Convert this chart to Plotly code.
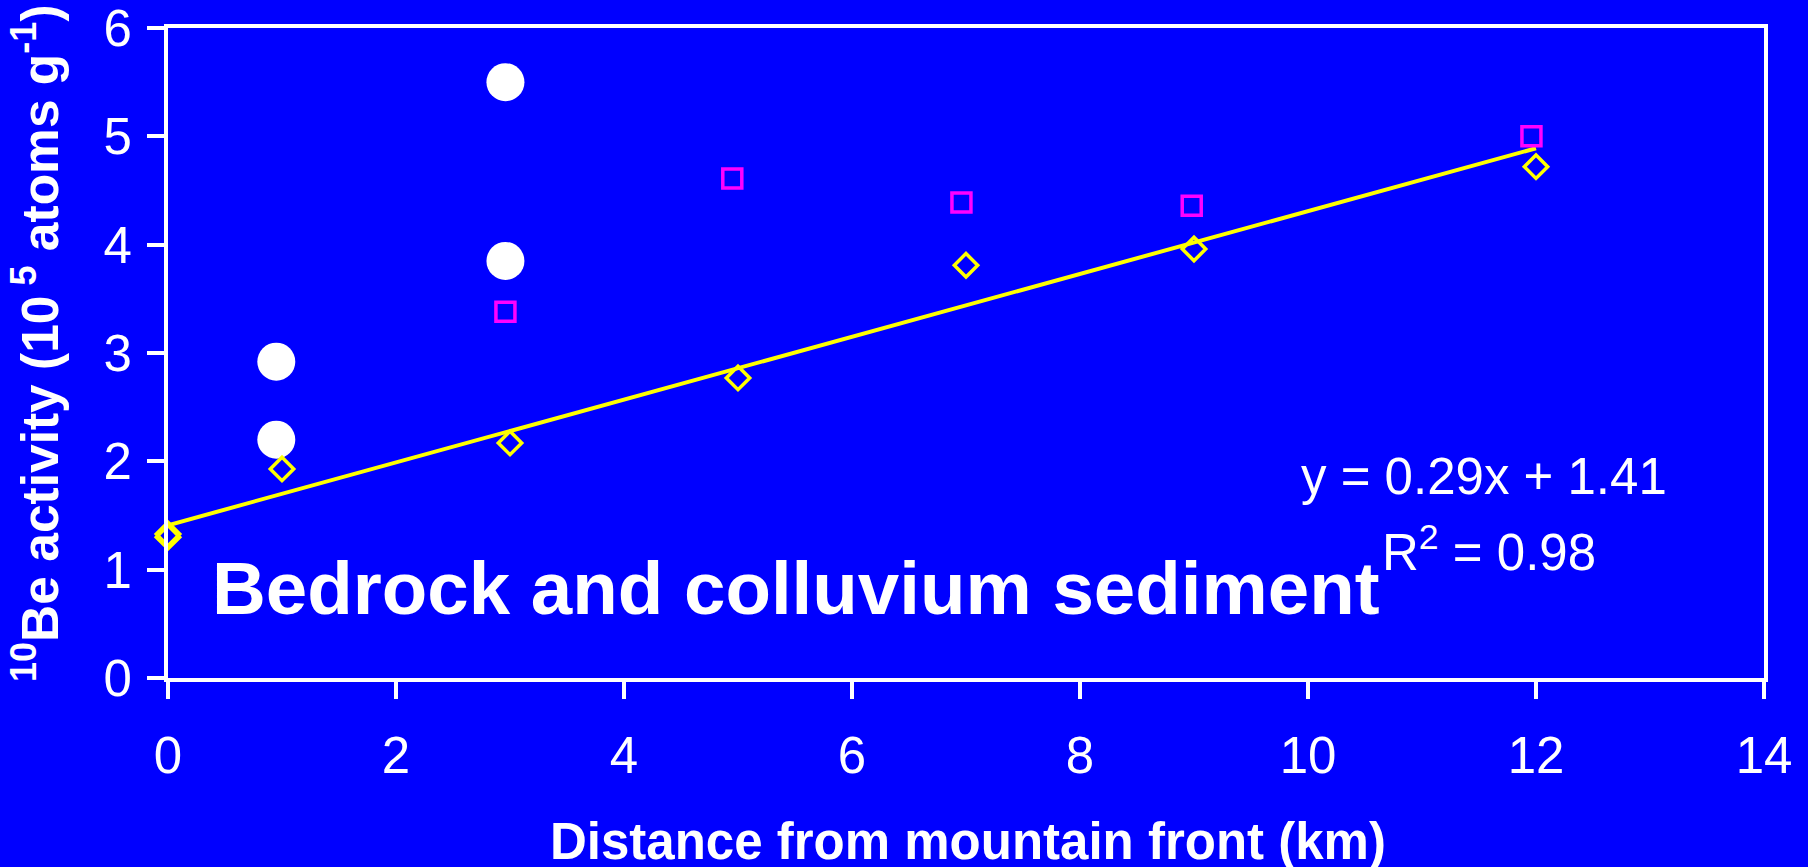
import plotly.graph_objects as go

# ---- data ----
bedrock_x = [0.95, 0.95, 2.96, 2.96]
bedrock_y = [2.92, 2.20, 5.50, 3.85]

colluvium_x = [2.96, 4.95, 6.96, 8.98, 11.96]
colluvium_y = [3.38, 4.61, 4.39, 4.36, 5.00]

sediment_x = [0, 0, 1, 3, 5, 7, 9, 12]
sediment_y = [1.30, 1.33, 1.93, 2.17, 2.77, 3.81, 3.96, 4.72]

fit_slope = 0.29
fit_intercept = 1.41
fit_x = [0, 12]
fit_y = [fit_slope * v + fit_intercept for v in fit_x]

x_ticks = [0, 2, 4, 6, 8, 10, 12, 14]
y_ticks = [0, 1, 2, 3, 4, 5, 6]

# ---- layout geometry (pixels) ----
W, H = 1808, 867
L, R, T, B = 168, 44, 28, 189
PW, PH = W - L - R, H - T - B


def px(xp):
    return (xp - L) / PW


def py(yp):
    return (H - B - yp) / PH


BLUE = "#0000FF"
FONT = "Liberation Sans, Arial, sans-serif"

fig = go.Figure()

fig.add_trace(go.Scatter(
    x=fit_x, y=fit_y, mode="lines",
    line=dict(color="#FFFF00", width=4),
    cliponaxis=False, showlegend=False, hoverinfo="skip"))

fig.add_trace(go.Scatter(
    x=bedrock_x, y=bedrock_y, mode="markers",
    marker=dict(symbol="circle", size=38, color="white", line=dict(width=0)),
    cliponaxis=False, showlegend=False))

fig.add_trace(go.Scatter(
    x=colluvium_x, y=colluvium_y, mode="markers",
    marker=dict(symbol="square-open", size=19, color="#FF00FF",
                line=dict(width=3.5, color="#FF00FF")),
    cliponaxis=False, showlegend=False))

fig.add_trace(go.Scatter(
    x=sediment_x, y=sediment_y, mode="markers",
    marker=dict(symbol="diamond-open", size=18, color="#FFFF00",
                line=dict(width=3.5, color="#FFFF00")),
    cliponaxis=False, showlegend=False))

axis_common = dict(
    showline=True, linecolor="white", linewidth=4, mirror=True,
    ticks="outside", ticklen=17, tickwidth=4, tickcolor="white",
    showgrid=False, zeroline=False, ticklabeloverflow="allow",
    automargin=False,
    tickfont=dict(family=FONT, size=51, color="white"),
)

fig.update_xaxes(range=[0, 14], tickvals=x_ticks, ticklabelstandoff=13, **axis_common)
fig.update_yaxes(range=[0, 6], tickvals=y_ticks, ticklabelstandoff=5, **axis_common)

annotations = [
    dict(text="<b>Bedrock and colluvium sediment</b>", x=px(210), y=py(588),
         xanchor="left", yanchor="middle", font=dict(family=FONT, size=74.5, color="white")),
    dict(text="y = 0.29x + 1.41", x=px(1299), y=py(476),
         xanchor="left", yanchor="middle", font=dict(family=FONT, size=51, color="white")),
    dict(text="R<sup>2</sup> = 0.98", x=px(1380), y=py(549),
         xanchor="left", yanchor="middle", font=dict(family=FONT, size=51, color="white")),
    dict(text="<b>Distance from mountain front (km)</b>", x=px(968), y=py(841),
         xanchor="center", yanchor="middle", font=dict(family=FONT, size=51, color="white")),
    dict(text="<b><sup>10</sup>Be activity (10<sup> 5</sup> atoms g<sup>-1</sup>)</b>",
         x=px(36), y=py(343), textangle=-90,
         xanchor="center", yanchor="middle", font=dict(family=FONT, size=51.5, color="white")),
]
for a in annotations:
    a.update(xref="paper", yref="paper", showarrow=False)

fig.update_layout(
    width=W, height=H,
    margin=dict(l=L, r=R, t=T, b=B, pad=0, autoexpand=False),
    paper_bgcolor=BLUE, plot_bgcolor=BLUE,
    annotations=annotations,
    showlegend=False,
)

fig.write_html("out.html")
